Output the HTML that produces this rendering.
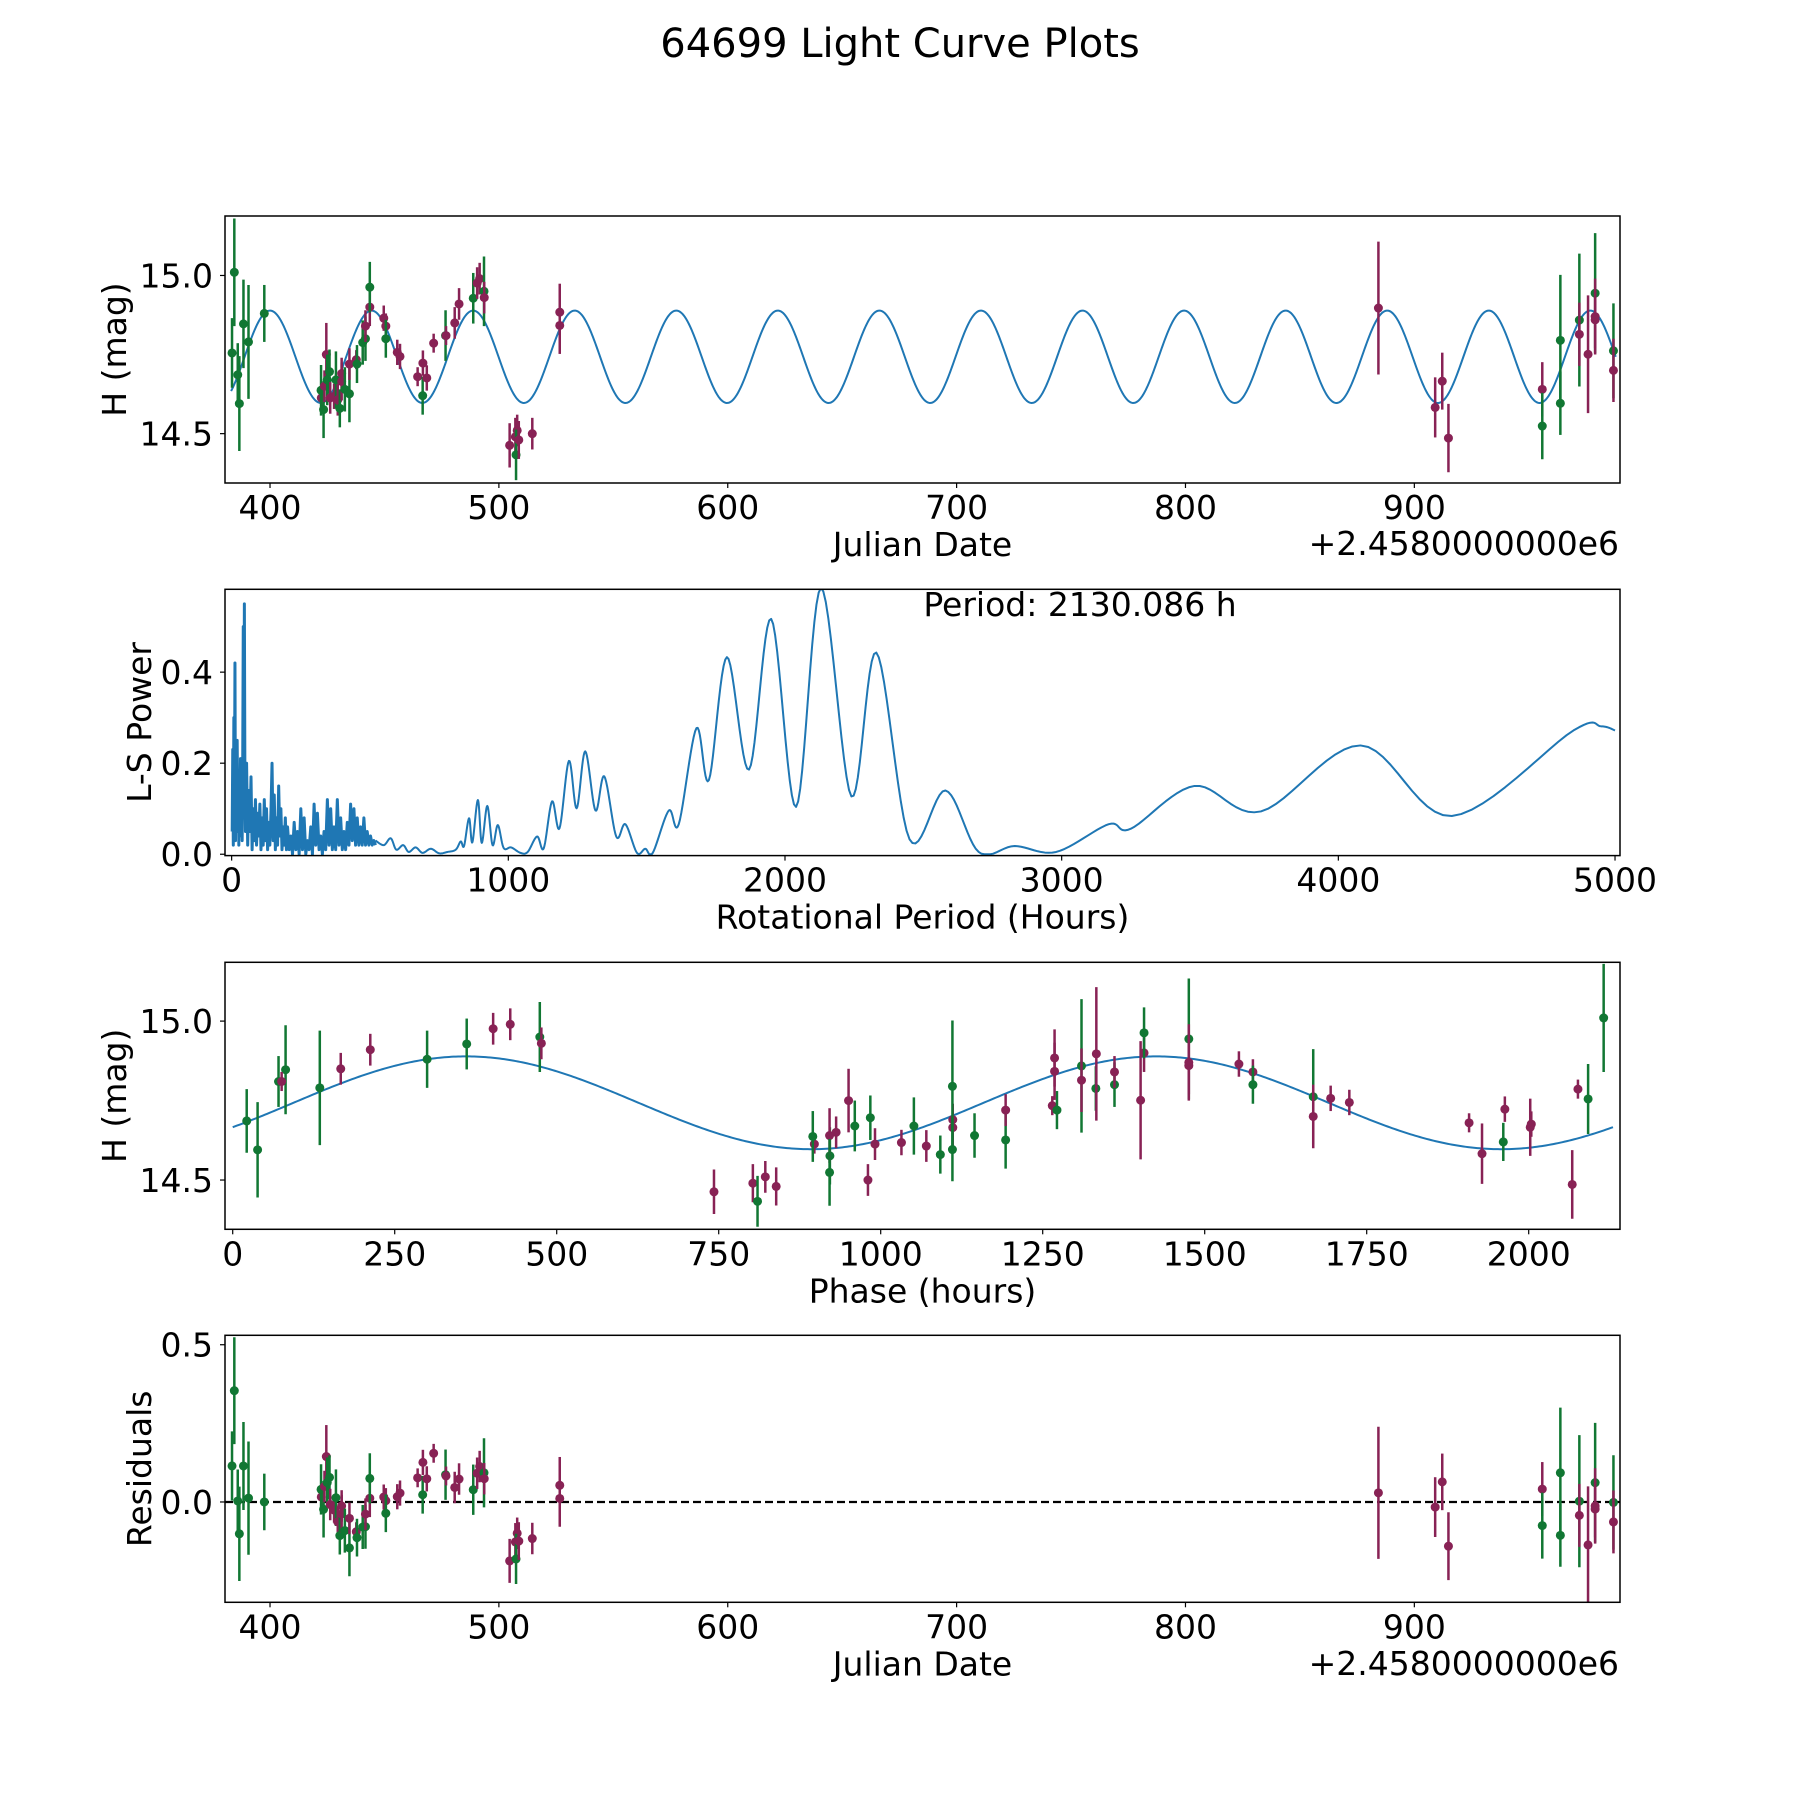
<!DOCTYPE html>
<html><head><meta charset="utf-8"><title>64699 Light Curve Plots</title>
<style>html,body{margin:0;padding:0;background:#fff}svg{display:block;font-family:"DejaVu Sans","Liberation Sans",sans-serif}</style>
</head><body>
<svg id="fig" width="1800" height="1800" viewBox="0 0 1800 1800" xmlns="http://www.w3.org/2000/svg">
<rect width="1800" height="1800" fill="#fff"/>
<text x="900" y="57" font-size="40" text-anchor="middle">64699 Light Curve Plots</text>
</svg>
<script>
// ---- data ----
const dates = [383.4,384.4,385.9,386.6,388.4,390.6,397.5,422.4,422.3,423.4,424.6,423.8,425.0,426.0,426.3,428.0,428.8,429.6,430.5,431.3,431.3,432.7,434.7,434.7,437.7,438.0,440.5,441.7,441.7,443.6,443.6,449.7,450.6,450.6,455.6,456.8,464.5,466.7,466.8,468.5,471.5,476.7,476.9,480.7,482.6,488.8,490.5,491.6,493.5,493.6,504.7,507.2,508.0,507.5,508.7,514.6,526.6,526.6,884.3,909.1,912.2,914.9,955.9,955.9,963.8,963.8,972.1,972.1,975.9,979.0,979.0,979.0,987.0,987.0];
const mags = [14.755,15.01,14.686,14.595,14.847,14.79,14.88,14.613,14.637,14.576,14.75,14.65,14.67,14.696,14.613,14.618,14.67,14.607,14.58,14.69,14.665,14.64,14.626,14.72,14.734,14.72,14.788,14.80,14.84,14.90,14.963,14.865,14.84,14.80,14.757,14.744,14.68,14.62,14.723,14.676,14.786,14.81,14.81,14.85,14.91,14.928,14.976,14.99,14.95,14.93,14.463,14.49,14.51,14.433,14.48,14.50,14.884,14.842,14.897,14.583,14.666,14.486,14.64,14.524,14.795,14.596,14.859,14.814,14.751,14.944,14.87,14.86,14.762,14.70];
const errs = [0.11,0.17,0.10,0.15,0.14,0.18,0.09,0.03,0.08,0.09,0.10,0.05,0.08,0.07,0.05,0.04,0.09,0.05,0.06,0.05,0.06,0.07,0.09,0.05,0.03,0.06,0.07,0.07,0.05,0.06,0.08,0.04,0.04,0.06,0.04,0.04,0.03,0.06,0.04,0.04,0.03,0.08,0.03,0.05,0.05,0.08,0.05,0.05,0.11,0.05,0.07,0.06,0.05,0.08,0.06,0.05,0.09,0.09,0.21,0.095,0.09,0.108,0.086,0.105,0.207,0.1,0.21,0.1,0.186,0.19,0.12,0.09,0.15,0.1];
const bands = ['g','g','g','g','g','g','g','p','g','g','p','p','g','g','p','p','g','p','g','p','p','g','g','p','p','g','g','g','p','p','g','p','p','g','p','p','p','g','p','p','p','g','p','p','p','g','p','p','g','p','p','p','p','g','p','p','p','p','p','p','p','p','p','g','g','g','g','p','p','g','p','p','g','p'];
// model parameters (fit)
const periodHours = 2130.086;
const fitMean = 14.743;
const fitAmp = 0.146;
const fitPeakDate = 400.0;
const phaseZero = 385.0;
// periodogram: noisy short-period part
const noisePeriods = [2,4,6,8,10,12,14,16,18,20,22,24,26,28,30,32,34,36,38,40,42,44,46,48,50,
54,58,62,66,70,74,78,82,86,90,94,98,102,106,110,114,118,122,126,130,134,138,142,146,150,154,158,162,166,170,174,178,182,186,190,194,198,
202,208,214,220,226,232,238,244,250,256,262,268,274,280,286,292,298,304,310,316,322,328,334,340,346,352,358,364,370,376,382,388,394,400,406,412,418,424,430,436,442,448,454,460,466,472,478,484,490,496,502,508,514,520];
const noisePowers = [0.05,0.23,0.02,0.30,0.08,0.42,0.03,0.22,0.05,0.25,0.10,0.18,0.02,0.17,0.04,0.21,0.06,0.16,0.03,0.20,0.50,0.08,0.55,0.15,0.05,
0.20,0.02,0.14,0.05,0.17,0.01,0.10,0.03,0.12,0.02,0.09,0.04,0.11,0.01,0.08,0.02,0.12,0.03,0.10,0.01,0.07,0.02,0.09,0.20,0.03,0.13,0.01,0.08,0.02,0.15,0.04,0.10,0.01,0.06,0.02,0.08,0.01,
0.06,0.01,0.04,0.00,0.07,0.01,0.05,0.00,0.10,0.01,0.08,0.00,0.03,0.01,0.06,0.00,0.11,0.02,0.09,0.01,0.04,0.00,0.05,0.01,0.12,0.02,0.10,0.01,0.06,0.01,0.12,0.02,0.08,0.01,0.05,0.01,0.07,0.02,0.11,0.03,0.10,0.02,0.08,0.02,0.06,0.02,0.08,0.02,0.05,0.02,0.04,0.02,0.03,0.02];
// periodogram: smooth long-period part
const smoothPeriods = [520,550,575,595,620,640,665,690,720,750,780,810,828,840,858,870,890,904,924,943,962,983,1010,1044,1070,1104,1128,1158,1185,1219,1247,1278,1315,1347,1390,1423,1465,1495,1522,1580,1616,1680,1725,1790,1870,1950,2040,2130,2240,2330,2450,2580,2700,2830,2980,3170,3250,3480,3720,4080,4410,4850,4950,5000];
const smoothPowers = [0.03,0.02,0.035,0.01,0.02,0.005,0.015,0.003,0.012,0.002,0.005,0.01,0.028,0.018,0.079,0.026,0.119,0.025,0.106,0.02,0.064,0.014,0.015,0.003,0.005,0.039,0.013,0.116,0.057,0.205,0.101,0.226,0.096,0.171,0.039,0.066,0.003,0.012,0.003,0.096,0.066,0.277,0.163,0.433,0.186,0.517,0.104,0.585,0.127,0.443,0.033,0.14,0.005,0.018,0.005,0.066,0.056,0.15,0.094,0.239,0.084,0.272,0.281,0.272];
const dateTicks = [400,500,600,700,800,900];
const magTicks = [14.5,15.0];
const periodTicks = [0,1000,2000,3000,4000,5000];
const powerTicks = [0.0,0.2,0.4];
const phaseTicks = [0,250,500,750,1000,1250,1500,1750,2000];
const residTicks = [0.0,0.5];
</script>
<script>
const NS='http://www.w3.org/2000/svg';
const svg=document.getElementById('fig');
const GREEN='#117733', PURPLE='#882255', BLUE='#1f77b4';
function mk(tag,attrs,parent){const e=document.createElementNS(NS,tag);for(const k in attrs)e.setAttribute(k,attrs[k]);(parent||svg).appendChild(e);return e;}
function lin(d0,d1,r0,r1){return v=>r0+(v-d0)*(r1-r0)/(d1-d0);}
function model(d){return fitMean+fitAmp*Math.cos(2*Math.PI*(d-fitPeakDate)/(periodHours/48));}
function phaseOf(d){let p=((d-phaseZero)*24)%periodHours;if(p<0)p+=periodHours;return p;}
function phaseModel(p){return model(phaseZero+p/24);}

function makeAxes(name,L,T,R,B,xd,yd){
  const g=mk('g',{});
  
  
  const clipId=name+'-clip';
  const cp=mk('clipPath',{id:clipId},g);mk('rect',{x:L,y:T,width:R-L,height:B-T},cp);
  const plot=mk('g',{'clip-path':'url(#'+clipId+')'},g);
  
  
  return {g,plot,L,T,R,B,x:lin(xd[0],xd[1],L,R),y:lin(yd[0],yd[1],B,T)};
}
function frame(ax,xt,yt,fmtX,fmtY,xlabel,ylabel,ylabelX){
  const f=mk('rect',{x:ax.L,y:ax.T,width:ax.R-ax.L,height:ax.B-ax.T,fill:'none',stroke:'#000','stroke-width':1.5},ax.g);
  
  
  xt.forEach(v=>{const px=ax.x(v);
    mk('line',{x1:px,x2:px,y1:ax.B,y2:ax.B+5,stroke:'#000','stroke-width':1.2},ax.g);
    const t=mk('text',{x:px,y:ax.B+36,'font-size':33,'text-anchor':'middle'},ax.g);t.textContent=fmtX(v);
    
    });
  yt.forEach(v=>{const py=ax.y(v);
    mk('line',{x1:ax.L-5,x2:ax.L,y1:py,y2:py,stroke:'#000','stroke-width':1.2},ax.g);
    const t=mk('text',{x:ax.L-12,y:py+12,'font-size':33,'text-anchor':'end'},ax.g);t.textContent=fmtY(v);
    
    });
  const xl=mk('text',{x:(ax.L+ax.R)/2,y:ax.B+73,'font-size':33,'text-anchor':'middle'},ax.g);xl.textContent=xlabel;
  
  
  const cy=(ax.T+ax.B)/2;
  const yl=mk('text',{x:ylabelX,y:cy,'font-size':33,'text-anchor':'middle',transform:'rotate(-90 '+ylabelX+' '+cy+')'},ax.g);yl.textContent=ylabel;
  
  
}
function points(ax,xs,ys,es){
  for(let i=0;i<xs.length;i++){
    const c=bands[i]==='g'?GREEN:PURPLE;
    const px=ax.x(xs[i]),py=ax.y(ys[i]);
    const l=mk('line',{x1:px,x2:px,y1:ax.y(ys[i]-es[i]),y2:ax.y(ys[i]+es[i]),stroke:c,'stroke-width':2.5},ax.plot);
    
    
    const d=mk('circle',{cx:px,cy:py,r:4.5,fill:c},ax.plot);
    
    
  }
}
function curve(ax,f,x0,x1,n,name){
  let d='';for(let i=0;i<=n;i++){const v=x0+(x1-x0)*i/n;d+=(i?'L':'M')+ax.x(v).toFixed(2)+' '+ax.y(f(v)).toFixed(2);}
  const p=mk('path',{d,fill:'none',stroke:BLUE,'stroke-width':2},ax.plot);
  
  
}
const f1=v=>v.toFixed(1);
const f0=v=>String(v);

// Panel 1: light curve
const a1=makeAxes('light-curve-axes',225,216,1620,483,[380.33,989.86],[14.344,15.188]);
curve(a1,model,383,988,1500,'fit-curve');
points(a1,dates,mags,errs);
frame(a1,dateTicks,magTicks,f0,f1,'Julian Date','H (mag)',126);
const off1=mk('text',{x:1619,y:555,'font-size':33,'text-anchor':'end'},a1.g);off1.textContent='+2.4580000000e6';



// Panel 2: periodogram
const a2=makeAxes('periodogram-axes',225,589.3,1620,855.6,[-24,5018],[-0.003,0.582]);
(function(){
  let dn='';
  noisePeriods.forEach((p,i)=>{dn+=(i?'L':'M')+a2.x(p).toFixed(2)+' '+a2.y(noisePowers[i]).toFixed(2);});
  const pn=mk('path',{d:dn,fill:'none',stroke:BLUE,'stroke-width':3,'stroke-linejoin':'round'},a2.plot);
  
  
  const pts=smoothPeriods.map((p,i)=>[a2.x(p),a2.y(smoothPowers[i])]);
  let d='M'+pts[0][0].toFixed(2)+' '+pts[0][1].toFixed(2);
  const yb=a2.y(0);
  for(let i=0;i<pts.length-1;i++){
    const p0=pts[Math.max(0,i-1)],p1=pts[i],p2=pts[i+1],p3=pts[Math.min(pts.length-1,i+2)];
    for(let s=1;s<=12;s++){const t=s/12,t2=t*t,t3=t2*t;
      const x=0.5*(2*p1[0]+(-p0[0]+p2[0])*t+(2*p0[0]-5*p1[0]+4*p2[0]-p3[0])*t2+(-p0[0]+3*p1[0]-3*p2[0]+p3[0])*t3);
      let y=0.5*(2*p1[1]+(-p0[1]+p2[1])*t+(2*p0[1]-5*p1[1]+4*p2[1]-p3[1])*t2+(-p0[1]+3*p1[1]-3*p2[1]+p3[1])*t3);
      if(y>yb)y=yb;
      d+='L'+x.toFixed(2)+' '+y.toFixed(2);}
  }
  const p=mk('path',{d,fill:'none',stroke:BLUE,'stroke-width':2,'stroke-linejoin':'round'},a2.plot);
  
  
})();
frame(a2,periodTicks,powerTicks,f0,f1,'Rotational Period (Hours)','L-S Power',151);
const pt=mk('text',{x:1080,y:616,'font-size':33,'text-anchor':'middle'},a2.g);pt.textContent='Period: '+periodHours.toFixed(3)+' h';



// Panel 3: phased
const a3=makeAxes('phased-curve-axes',225,962.3,1620,1229.3,[-11.9,2140.9],[14.345,15.185]);
curve(a3,phaseModel,0,periodHours,600,'phase-fit-curve');
points(a3,dates.map(phaseOf),mags,errs);
frame(a3,phaseTicks,magTicks,f0,f1,'Phase (hours)','H (mag)',126);

// Panel 4: residuals
const a4=makeAxes('residuals-axes',225,1335.3,1620,1602.3,[380.33,989.86],[-0.319,0.530]);
const zl=mk('line',{x1:225,x2:1620,y1:a4.y(0),y2:a4.y(0),stroke:'#000','stroke-width':2.2,'stroke-dasharray':'8,4'},a4.plot);


points(a4,dates,mags.map((m,i)=>m-model(dates[i])),errs);
frame(a4,dateTicks,residTicks,f0,f1,'Julian Date','Residuals',151);
const off4=mk('text',{x:1619,y:1675,'font-size':33,'text-anchor':'end'},a4.g);off4.textContent='+2.4580000000e6';


</script>
</body></html>
